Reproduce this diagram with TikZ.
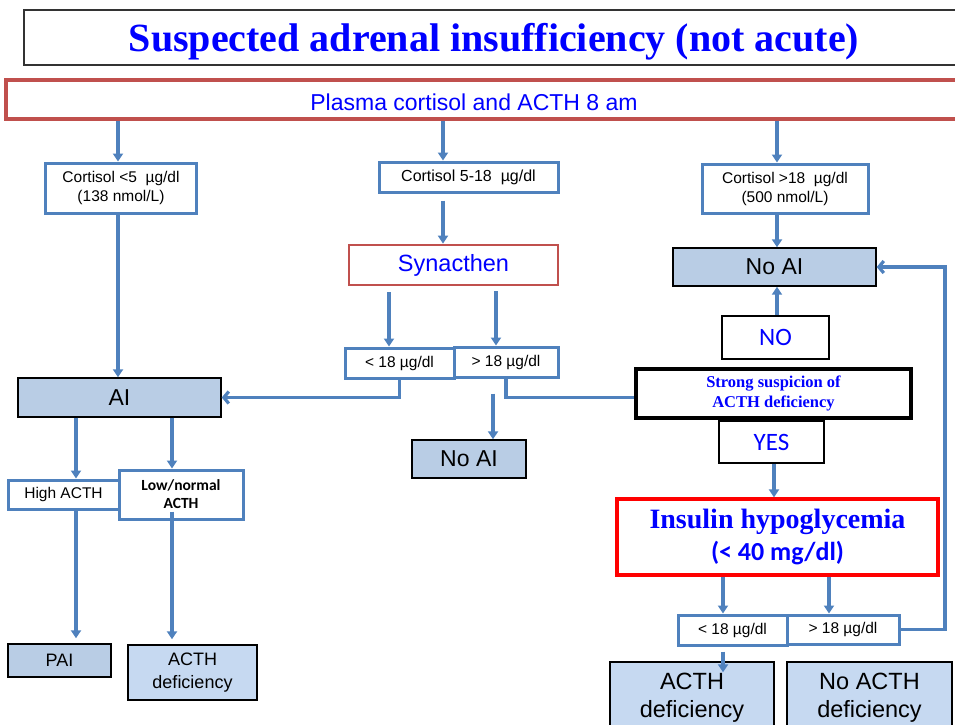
\documentclass[tikz,border=0pt]{standalone}
\usepackage{fontspec}
\setmainfont{Liberation Serif}
\setsansfont{Liberation Sans}
\newfontfamily\calib{Carlito}
\usetikzlibrary{arrows.meta,calc}
\definecolor{ablue}{HTML}{4F81BD}
\definecolor{bfill}{HTML}{B9CDE5}
\definecolor{bfilltwo}{HTML}{C6D9F1}
\definecolor{dred}{HTML}{C0504D}
\definecolor{tblue}{HTML}{0000FF}
\newcommand{\fsz}[2]{\fontsize{#1}{#2}\selectfont}
\tikzset{
 base/.style={rectangle, inner sep=0pt, align=center, font=\sffamily},
 wbox/.style={base, draw=ablue, line width=3pt, fill=white},
 fbox/.style={base, draw=black, line width=1.4pt, fill=bfill},
 f2box/.style={base, draw=black, line width=1.4pt, fill=bfilltwo},
 kbox/.style={base, draw=black, fill=white},
 arr/.style={draw=ablue, line width=3.2pt, -{Triangle[length=8pt,width=10pt]}},
 barb/.style={draw=ablue, line width=3.2pt, -{Straight Barb[length=5pt,width=12pt]}},
 conn/.style={draw=ablue, line width=3.2pt},
}
\begin{document}
\begin{tikzpicture}[x=1pt,y=-1pt]
\useasboundingbox (0,0) rectangle (955,724);
\clip (0,0) rectangle (955,724);
% title
\node[base, draw=black!80, line width=1.6pt, minimum width=976pt, minimum height=55pt] (titlebox) at (512,37.5) {};
\node[font=\rmfamily\bfseries\fsz{40}{44}, text=tblue, inner sep=0pt] (title) at (494,42) {Suspected adrenal insufficiency (not acute)};
% plasma
\node[base, draw=dred, line width=3.2pt, fill=white, minimum width=994pt, minimum height=39pt] (plasma) at (503,99.5) {};
\node[font=\sffamily\fsz{23}{25}, text=tblue, inner sep=0pt] (plasmatext) at (474,102) {Plasma cortisol and ACTH 8 am};
\coordinate (xa) at (118,0);
\coordinate (xb) at (443,0);
\coordinate (xc) at (777,0);
\coordinate (xd) at (389,0);
\coordinate (xe) at (496,0);
\coordinate (xf) at (493,0);
\coordinate (xg) at (774,0);
\coordinate (xh) at (723,0);
\coordinate (xi) at (829,0);
\coordinate (xr) at (945,0);
\coordinate (xj) at (76,0);
\coordinate (xk) at (172,0);
% left column
\node[wbox, minimum width=151pt, minimum height=50pt, font=\sffamily\fsz{15.5}{19}] (c1) at (121,188) {Cortisol <5\ \ µg/dl\\(138 nmol/L)};
\node[fbox, minimum width=203pt, minimum height=39pt, font=\sffamily\fsz{23}{26}] (ai) at (119.5,397.5) {AI};
\node[wbox, minimum width=111pt, minimum height=29pt, font=\sffamily\fsz{15.5}{18}] (high) at (63.5,494.5) {High ACTH};
\node[wbox, minimum width=124pt, minimum height=49pt, font=\calib\bfseries\fsz{15.5}{18}] (low) at (181,494.5) {Low/normal\\ACTH};
\node[fbox, minimum width=103pt, minimum height=33pt, font=\sffamily\fsz{18}{22}] (pai) at (59.5,660.5) {PAI};
\node[f2box, minimum width=129pt, minimum height=55pt, font=\sffamily\fsz{18}{23}] (acthone) at (192.5,672.5) {ACTH\\deficiency};
% middle column
\node[wbox, minimum width=179pt, minimum height=30pt, font=\sffamily\fsz{16}{19}] (c2) at (468.5,177) {Cortisol 5-18\ \ µg/dl};
\node[base, draw=dred, line width=2.8pt, fill=white, minimum width=209pt, minimum height=40pt, text=tblue, font=\sffamily\fsz{23.5}{26}] (syn) at (453.5,265) {Synacthen};
\node[wbox, minimum width=109pt, minimum height=30pt, font=\sffamily\fsz{15.5}{18}] (ltone) at (399.5,363) {< 18 µg/dl};
\node[wbox, minimum width=104pt, minimum height=30pt, font=\sffamily\fsz{15.5}{18}] (gtone) at (506,362) {> 18 µg/dl};
\node[fbox, minimum width=114pt, minimum height=38pt, font=\sffamily\fsz{23}{26}] (noaitwo) at (469,459) {No AI};
% right column
\node[wbox, minimum width=166pt, minimum height=49pt, font=\sffamily\fsz{15.5}{19}] (c3) at (785,188.5) {Cortisol >18\ \ µg/dl\\(500 nmol/L)};
\node[fbox, minimum width=203pt, minimum height=38pt, font=\sffamily\fsz{23}{26}] (noaione) at (774.5,267) {No AI};
\node[kbox, line width=2.4pt, minimum width=107pt, minimum height=43pt, text=tblue, font=\calib\fsz{25}{28}] (no) at (775.5,337.5) {NO};
\node[kbox, line width=3.2pt, minimum width=275pt, minimum height=49pt, text=tblue, font=\rmfamily\bfseries\fsz{16.5}{20}] (strong) at (773.5,393.5) {Strong suspicion of\\ACTH deficiency};
\node[kbox, line width=2.8pt, minimum width=105pt, minimum height=42pt, text=tblue, font=\calib\fsz{25}{28}] (yes) at (771.5,442) {YES};
\node[base, draw=red, line width=3.2pt, fill=white, minimum width=321pt, minimum height=76pt, text=tblue, font=\calib\bfseries\fsz{26}{32}] (ins) at (777.5,537) {{\rmfamily\bfseries\fsz{28}{32}Insulin hypoglycemia}\\(< 40 mg/dl)};
\node[wbox, minimum width=109pt, minimum height=30pt, font=\sffamily\fsz{15.5}{18}] (lttwo) at (732.5,630) {< 18 µg/dl};
\node[wbox, minimum width=112pt, minimum height=29pt, font=\sffamily\fsz{15.5}{18}] (gttwo) at (843,629.5) {> 18 µg/dl};
\node[f2box, minimum width=164pt, minimum height=71pt, font=\sffamily\fsz{23.5}{28}] (acthtwo) at (692,697.5) {ACTH\\deficiency};
\node[f2box, minimum width=165pt, minimum height=71pt, font=\sffamily\fsz{23.5}{28}] (noacth) at (869.5,697.5) {No ACTH\\deficiency};
% connectors
\draw[arr] (plasma.south -| xa) -- (c1.north -| xa);
\draw[arr] (plasma.south -| xb) -- (c2.north -| xb);
\draw[arr] (plasma.south -| xc) -- (c3.north -| xc);
\draw[arr] (c1.south -| xa) -- (ai.north -| xa);
\draw[arr] (ai.south -| xj) -- (high.north -| xj);
\draw[arr] (ai.south -| xk) -- (low.north -| xk);
\draw[arr, shorten >=5pt] (high.south -| xj) -- (pai.north -| xj);
\draw[arr, shorten >=5pt] ($(low.south -| xk)+(0,-9)$) -- (acthone.north -| xk);
\draw[arr, shorten <=7pt] (c2.south -| xb) -- (syn.north -| xb);
\draw[arr, shorten <=6pt] (syn.south -| xd) -- (ltone.north -| xd);
\draw[arr, shorten <=5pt] (syn.south -| xe) -- (gtone.north -| xe);
\draw[barb] (ltone.south) |- (ai.east);
\draw[conn] (gtone.south) |- ($(strong.west)+(0,4)$);
\draw[arr, shorten <=15pt] (gtone.south -| xf) -- (noaitwo.north -| xf);
\draw[arr] (c3.south -| xc) -- (noaione.north -| xc);
\draw[arr] (no.north -| xc) -- (noaione.south -| xc);
\draw[arr] (yes.south -| xg) -- (ins.north -| xg);
\draw[arr] (ins.south -| xh) -- (lttwo.north -| xh);
\draw[arr] (ins.south -| xi) -- (gttwo.north -| xi);
\draw[arr, shorten <=5pt] (lttwo.south -| xh) -- ($(acthtwo.north -| xh)+(0,11)$);
\draw[barb] (gttwo.east) -- (gttwo.east -| xr) -- (noaione.east -| xr) -- (noaione.east);
\end{tikzpicture}
\end{document}
